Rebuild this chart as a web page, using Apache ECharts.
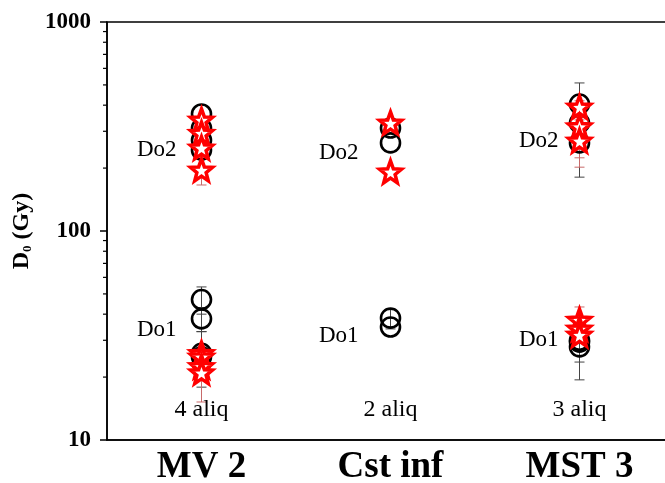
<!DOCTYPE html>
<html>
<head>
<meta charset="utf-8">
<script src="https://cdn.jsdelivr.net/npm/echarts@6/dist/echarts.min.js"></script>
<style>html,body{margin:0;padding:0;background:#fff}#c{width:665px;height:483px;overflow:hidden}</style>
</head>
<body>
<div id="c"></div>
<script>
// ---- data ----
var categories = ['MV 2', 'Cst inf', 'MST 3'];
var yTickLabels = ['10', '100', '1000'];
// circles (black, hollow): [categoryIndex, D0]
var circleData = [
  [0, 363], [0, 311], [0, 272], [0, 244],
  [0, 47], [0, 38], [0, 26], [0, 25],
  [1, 311], [1, 264],
  [1, 38.3], [1, 34.7],
  [2, 405], [2, 329], [2, 264],
  [2, 30], [2, 29.4], [2, 27.9]
];
// stars (red): [categoryIndex, D0]
var starData = [
  [0, 340], [0, 294], [0, 250], [0, 196],
  [0, 26], [0, 25], [0, 22.5], [0, 21],
  [1, 329], [1, 192],
  [2, 392], [2, 316], [2, 270],
  [2, 37.5], [2, 34], [2, 31.8]
];
// error bars: [categoryIndex, low, high]
var circleErr = [
  [0, 40, 54], [0, 33, 43], [0, 17.9, 33],
  [1, 34, 42.3],
  [2, 300, 511], [2, 181, 350],
  [2, 23.6, 35], [2, 19.4, 36]
];
var starErr = [
  [0, 166, 226], [0, 15.2, 27],
  [2, 202, 340], [2, 224, 420],
  [2, 32, 43.3]
];
// annotations: [categoryIndex, D0, text]
var doLabels = [
  [0, 244, 'Do2'], [0, 33.6, 'Do1'],
  [1, 237, 'Do2'], [1, 31.4, 'Do1'],
  [2, 270, 'Do2'], [2, 30.1, 'Do1']
];
var aliqLabels = [[0, 14, '4 aliq'], [1, 14, '2 aliq'], [2, 14, '3 aliq']];

// ---- styling helpers ----
function starPath() {
  var pts = [];
  for (var i = 0; i < 10; i++) {
    var r = i % 2 === 0 ? 50 : 21;
    var a = -Math.PI / 2 + i * Math.PI / 5;
    pts.push((50 + r * Math.cos(a)).toFixed(2) + ' ' + (50 + r * Math.sin(a)).toFixed(2));
  }
  return 'path://M' + pts.join(' L') + ' Z';
}
var minorTicks = [];
[10, 100].forEach(function (d) { for (var k = 2; k <= 9; k++) minorTicks.push([0, k * d]); });

var serif = '"Liberation Serif", "Times New Roman", serif';
var labelGap = { 0: 25, 1: 32, 2: 21 };

function errRender(color) {
  return function (params, api) {
    var x = api.value(0);
    var p1 = api.coord([x, api.value(1)]);
    var p2 = api.coord([x, api.value(2)]);
    var st = { stroke: color, lineWidth: 1 };
    return {
      type: 'group', children: [
        { type: 'line', shape: { x1: p1[0], y1: p1[1], x2: p2[0], y2: p2[1] }, style: st },
        { type: 'line', shape: { x1: p1[0] - 5, y1: p1[1], x2: p1[0] + 5, y2: p1[1] }, style: st },
        { type: 'line', shape: { x1: p2[0] - 5, y1: p2[1], x2: p2[0] + 5, y2: p2[1] }, style: st }
      ]
    };
  };
}

var chart = echarts.init(document.getElementById('c'));
chart.setOption({
  animation: false,
  backgroundColor: '#fff',
  grid: {
    left: 107, width: 567, top: 22, height: 418, containLabel: false, outerBoundsMode: 'none',
    show: true, borderColor: '#000', borderWidth: 1.5
  },
  xAxis: {
    type: 'category', data: categories, boundaryGap: true,
    axisLine: { lineStyle: { color: '#000', width: 1.5 } },
    axisTick: { alignWithLabel: true, length: 5, lineStyle: { color: '#000', width: 1.5 } },
    axisLabel: { color: '#000', fontFamily: serif, fontWeight: 'bold', fontSize: 37, margin: 9 },
    splitLine: { show: false }
  },
  yAxis: {
    type: 'log', logBase: 10, min: 10, max: 1000,
    axisLine: { show: true, lineStyle: { color: '#000', width: 1.5 } },
    axisTick: { show: true, length: 7, lineStyle: { color: '#000', width: 1.5 } },
    axisLabel: {
      color: '#000', fontFamily: serif, fontWeight: 'bold', fontSize: 23, margin: 16,
      formatter: function (v) { var i = Math.round(Math.log10(v)) - 1; return yTickLabels[i] || ''; }
    },
    splitLine: { show: false },
    name: '{a|D}{b|0}{a| (Gy)}',
    nameLocation: 'middle', nameRotate: 90, nameGap: 66,
    nameTextStyle: {
      rich: {
        a: { fontFamily: serif, fontWeight: 'bold', fontSize: 24, color: '#000' },
        b: { fontFamily: serif, fontWeight: 'bold', fontSize: 13, color: '#000', verticalAlign: 'bottom', padding: [12, 0, 0, 0] }
      }
    }
  },
  series: [
    {
      type: 'custom', data: minorTicks, silent: true, clip: false,
      renderItem: function (params, api) {
        var p = api.coord([0, api.value(1)]);
        var x0 = params.coordSys.x;
        return { type: 'line', shape: { x1: x0 - 4, y1: p[1], x2: x0, y2: p[1] }, style: { stroke: '#000', lineWidth: 1.2 } };
      }
    },
    { type: 'custom', data: circleErr, renderItem: errRender('#444'), z: 1 },
    { type: 'custom', data: starErr, renderItem: errRender('#c86a6a'), z: 1 },
    {
      type: 'scatter', data: circleData, symbol: 'circle', symbolSize: 19, z: 3,
      itemStyle: { opacity: 1, color: 'rgba(255,255,255,0)', borderColor: '#000', borderWidth: 2.6 }
    },
    {
      type: 'scatter', data: starData, symbol: starPath(), symbolSize: 22, z: 4,
      itemStyle: { opacity: 1, color: '#fff', borderColor: '#ff0000', borderWidth: 3.5 }
    },
    {
      type: 'scatter', symbolSize: 0, z: 5, silent: true, itemStyle: { opacity: 1 },
      data: doLabels.map(function (d) { return { value: [d[0], d[1]], name: d[2], label: { distance: labelGap[d[0]] } }; }),
      label: { show: true, position: 'left', formatter: '{b}', color: '#000', fontFamily: serif, fontSize: 23 }
    },
    {
      type: 'scatter', symbolSize: 0, z: 5, silent: true, itemStyle: { opacity: 1 },
      data: aliqLabels.map(function (d) { return { value: [d[0], d[1]], name: d[2] }; }),
      label: { show: true, position: 'inside', formatter: '{b}', color: '#000', fontFamily: serif, fontSize: 24 }
    }
  ]
});
</script>
</body>
</html>
